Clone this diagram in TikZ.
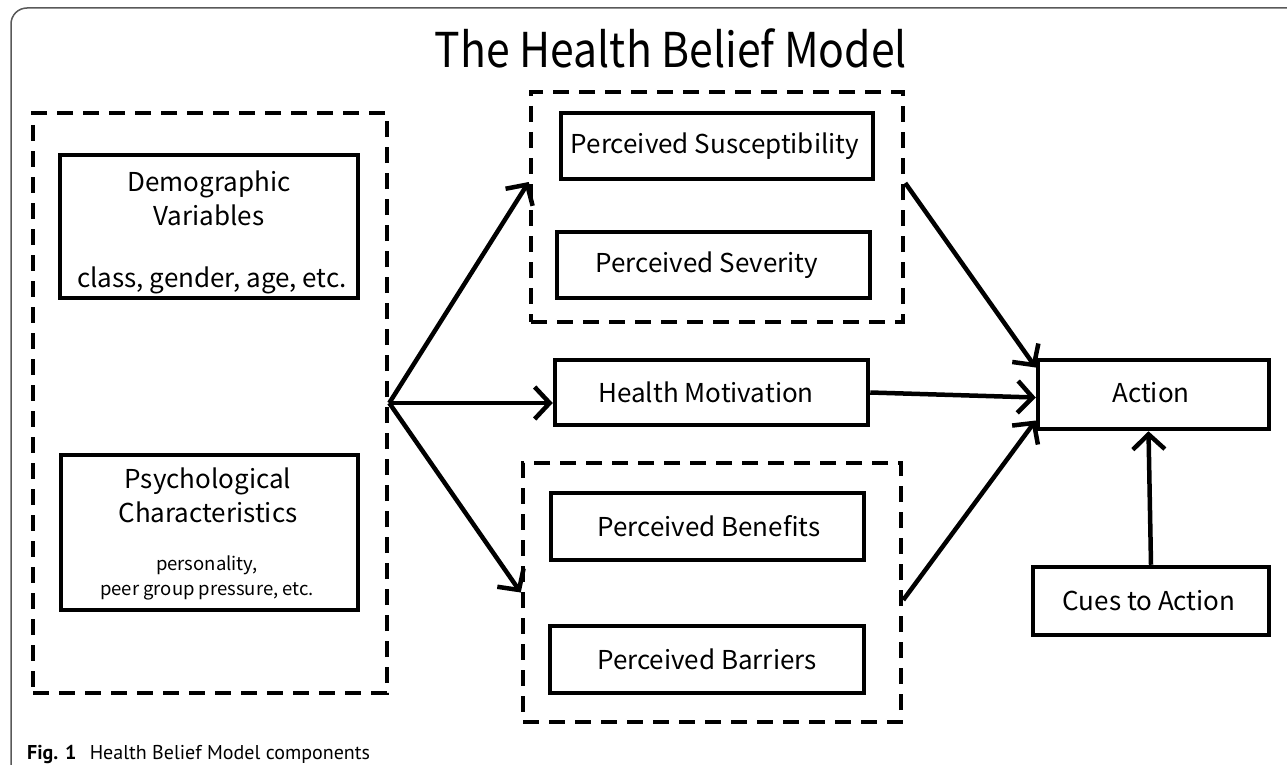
\documentclass[tikz,border=0pt]{standalone}
\usepackage{fontspec}
\setmainfont{Noto Sans CJK SC}
\newfontfamily\capfont{PT Sans}
\usetikzlibrary{arrows.meta,calc}
\tikzset{
  box/.style={draw, line width=4.5pt, rectangle, inner sep=0pt},
  group/.style={draw, line width=4.5pt, dash pattern=on 16pt off 10pt, rectangle, inner sep=0pt},
  lbl/.style={inner sep=0pt, align=center, font=\fontsize{26}{34}\selectfont},
  small/.style={inner sep=0pt, align=center, font=\fontsize{18.5}{25}\selectfont},
  arr/.style={line width=4.5pt, -{Straight Barb[length=15pt,width=32pt,line width=4.5pt]}},
}
\begin{document}
\begin{tikzpicture}[x=1pt,y=-1pt]
\useasboundingbox (0,0) rectangle (1287,765);
% frame
\draw[line width=1.5pt, gray!70!black, rounded corners=16pt] (11,765) -- (11,8) -- (1300,8);
% title
\node[inner sep=0pt] (title) at (671,48) {\scalebox{0.89}[1]{\fontsize{48}{56}\selectfont The Health Belief Model}};
% left group
\node[group, minimum width=354pt, minimum height=580pt] (L) at (210,403) {};
\node[box, minimum width=298pt, minimum height=143pt] (demo) at (209,226.5) {};
\node[lbl] (demo1) at (209,198) {Demographic\\Variables};
\node[lbl] (demo2) at (212,280) {class, gender, age, etc.};
\node[box, minimum width=297pt, minimum height=155pt] (psy) at (209.5,532.5) {};
\node[lbl] (psy1) at (208,495) {Psychological\\Characteristics};
\node[small] (psy2) at (207,578) {personality,\\peer group pressure, etc.};
% top group
\node[group, minimum width=372pt, minimum height=230pt] (T) at (717,207) {};
\node[box, minimum width=312pt, minimum height=66pt] (sus) at (717,146) {};
\node[lbl] (sustext) at (715,146) {Perceived Susceptibility};
\node[box, minimum width=313pt, minimum height=66pt] (sev) at (713.5,265) {};
\node[lbl] (sevtext) at (707,265) {Perceived Severity};
% health motivation
\node[box, minimum width=313pt, minimum height=65pt] (hm) at (711.5,392.5) {};
\node[lbl] (hmtext) at (706,392.5) {Health Motivation};
% bottom group
\node[group, minimum width=378pt, minimum height=259pt] (B) at (712,592.5) {};
\node[box, minimum width=313pt, minimum height=67pt] (ben) at (707.5,526.5) {};
\node[lbl] (bentext) at (709,526.5) {Perceived Benefits};
\node[box, minimum width=314pt, minimum height=67pt] (bar) at (707,659.5) {};
\node[lbl] (bartext) at (707,659.5) {Perceived Barriers};
% action
\node[box, minimum width=231pt, minimum height=69pt] (A) at (1153.5,394.5) {};
\node[lbl] (atext) at (1151,393) {Action};
\node[box, minimum width=236pt, minimum height=68pt] (C) at (1151,601) {};
\node[lbl] (ctext) at (1149,601) {Cues to Action};
% connectors
\coordinate (O) at (L.east);
\draw[arr] (O) -- ([yshift=25pt]T.west);
\draw[arr] (O) -- (hm.west |- O);
\draw[arr] (O) -- (B.west);
\draw[arr] ([yshift=24pt]T.east) -- ([yshift=27pt]A.west);
\draw[arr] (hm.east) -- ([yshift=-3pt]A.west);
\draw[arr] ([yshift=-7.5pt]B.east) -- ([yshift=-26pt]A.west);
\draw[arr] (C.north) -- ([xshift=-5pt]A.south);
% caption
\node[anchor=base west, inner sep=0pt, font=\capfont\fontsize{20}{24}\selectfont] (cap) at (27,759) {\textbf{Fig. 1}\hspace{0.4em} Health Belief Model components};
\end{tikzpicture}
\end{document}
